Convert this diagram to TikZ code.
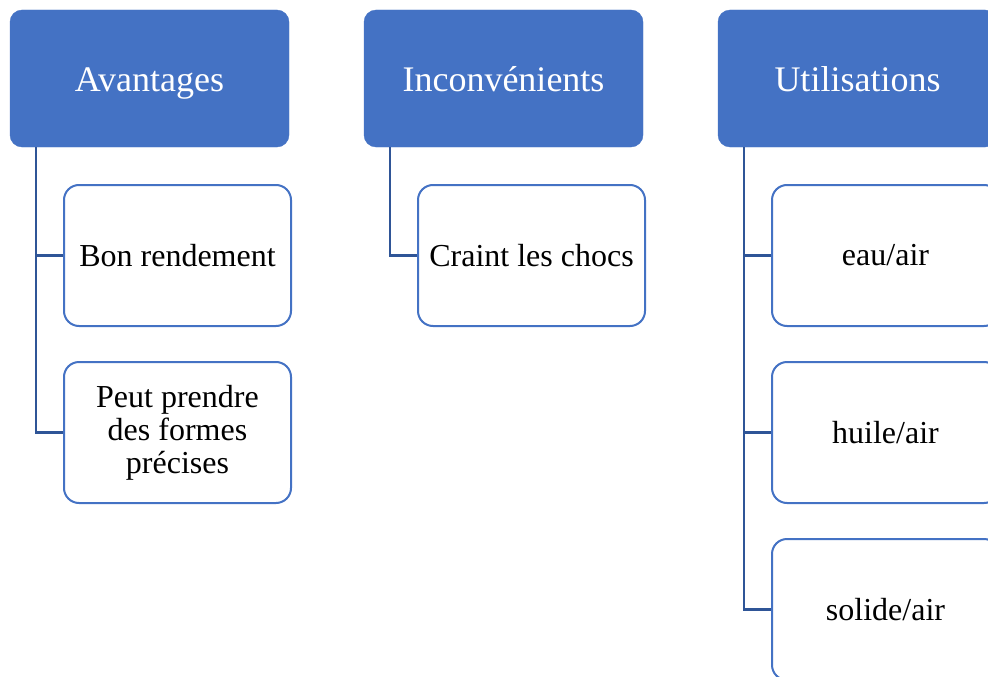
\documentclass[tikz,border=0pt]{standalone}
\usepackage{fontspec}
\setmainfont{Liberation Serif}
\definecolor{headblue}{HTML}{4472C4}
\definecolor{linkblue}{HTML}{2F5597}

\begin{document}
\begin{tikzpicture}[x=1pt, y=-1pt,
    head/.style={rectangle, fill=headblue, draw=headblue, rounded corners=12pt, minimum width=279pt, minimum height=137pt, align=center, text=white, text height=27pt, text depth=0pt, font=\fontsize{36}{40}\selectfont},
    item/.style={rectangle, draw=headblue, line width=2pt, fill=white, rounded corners=15pt, minimum width=227pt, minimum height=141pt, align=center, font=\fontsize{32}{33}\selectfont},
    link/.style={draw=linkblue, line width=2.5pt}
]
\useasboundingbox (0,0) rectangle (988,677);
\clip (0,0) rectangle (988,677);

\node[head] (avant) at (149.5,78.5) {Avantages};
\node[head] (incon) at (503.5,78.5) {Inconvénients};
\node[head] (util) at (857.5,78.5) {Utilisations};

\node[item] (bon) at (177.5,255.5) {Bon rendement};
\node[item] (forme) at (177.5,432.5) {Peut prendre\\des formes\\précises};
\node[item] (choc) at (531.5,255.5) {Craint les chocs};
\node[item] (eau) at (885.5,255.5) {eau/air};
\node[item] (huile) at (885.5,432.5) {huile/air};
\node[item] (solide) at (885.5,609.5) {solide/air};

\draw[link] ([xshift=26pt]avant.south west) |- (bon.west);
\draw[link] ([xshift=26pt]avant.south west) |- (forme.west);
\draw[link] ([xshift=26pt]incon.south west) |- (choc.west);
\draw[link] ([xshift=26pt]util.south west) |- (eau.west);
\draw[link] ([xshift=26pt]util.south west) |- (huile.west);
\draw[link] ([xshift=26pt]util.south west) |- (solide.west);
\end{tikzpicture}
\end{document}
